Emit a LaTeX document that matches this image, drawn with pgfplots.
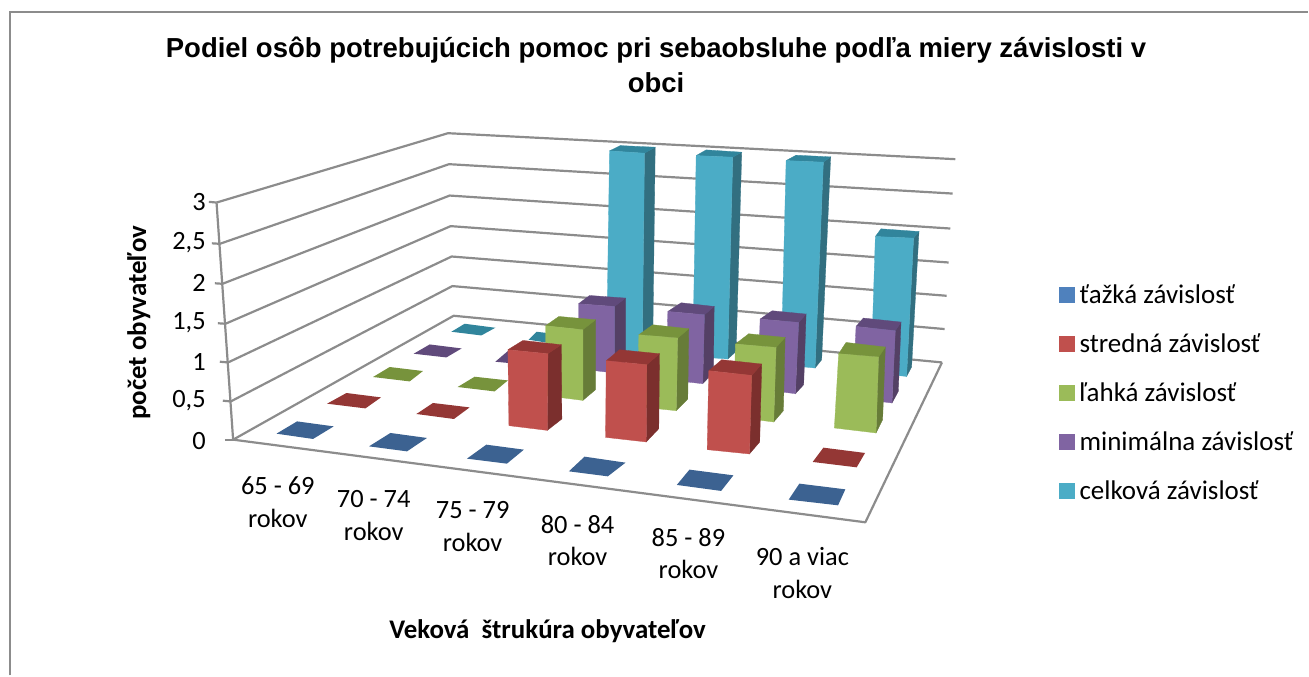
\documentclass[border=0pt]{standalone}
\usepackage{pgfplots}
\pgfplotsset{compat=1.18}
\usepackage{fontspec}
\setmainfont{Carlito}
\newfontfamily\arial{Liberation Sans}
\definecolor{bF}{HTML}{4F81BD}\definecolor{bT}{HTML}{3C6291}
\definecolor{rF}{HTML}{C0504D}\definecolor{rT}{HTML}{943735}\definecolor{rS}{HTML}{7B2F2D}
\definecolor{gF}{HTML}{9BBB59}\definecolor{gT}{HTML}{77933C}\definecolor{gS}{HTML}{677C38}
\definecolor{pF}{HTML}{8064A2}\definecolor{pT}{HTML}{604A7B}\definecolor{pS}{HTML}{544065}
\definecolor{cF}{HTML}{4BACC6}\definecolor{cT}{HTML}{31859C}\definecolor{cS}{HTML}{326F80}
\definecolor{gridc}{HTML}{8C8C8C}
% #1 series; front TL TR BR BL; top back-left, back-right; side bottom back
\newcommand{\Bar}[8]{%
 \addplot[forget plot,fill=#1S,draw=#1S,line width=.3pt] coordinates {(#3)(#7)(#8)(#4)(#3)};
 \addplot[forget plot,fill=#1T,draw=#1T,line width=.3pt] coordinates {(#2)(#6)(#7)(#3)(#2)};
 \addplot[forget plot,fill=#1F,draw=#1F,line width=.3pt] coordinates {(#2)(#3)(#4)(#5)(#2)};
}
\newcommand{\Tile}[5]{\addplot[forget plot,fill=#1T,draw=none] coordinates {(#2)(#3)(#4)(#5)(#2)};}
\newcommand{\Gl}[1]{\addplot[forget plot,gridc,line width=2.2pt,line join=round] coordinates {#1};}
\newcommand{\Yl}[2]{\node[font=\fontsize{26.4}{30}\selectfont,anchor=east,inner sep=0pt] at (axis cs:206,#2) {#1};}
\newcommand{\Xl}[3]{\node[font=\fontsize{26.4}{33}\selectfont,align=center] at (axis cs:#1,#2) {#3\\rokov};}
\begin{document}
\begin{tikzpicture}
\begin{axis}[
  scale only axis, width=1309pt, height=676pt,
  xmin=0, xmax=1309, ymin=0, ymax=676, y dir=reverse,
  hide axis, clip=false,
  legend cell align=left,
  legend style={at={(axis cs:1060,283)},anchor=north west,draw=none,fill=none,
    font=\fontsize{27}{30}\selectfont,inner sep=0pt,outer sep=0pt,
    row sep=24.8pt},
  legend image code/.code={\fill[#1] (-4pt,-7.5pt) rectangle (11pt,7.5pt);},
]
% page extent
\path (axis cs:0,0) rectangle (axis cs:1309,676);
% outer frame
\addplot[forget plot,gridc,line width=2pt] coordinates {(10,676)(10,12)(1309,12)};
% walls: value gridlines 0 ... 3
\Gl{(216.7,202.7)(448.3,133.3)(956,159.3)}
\Gl{(220,244)(449.3,164.3)(953.3,193.7)}
\Gl{(222.7,284)(450,195.7)(951,228.7)}
\Gl{(225.7,324)(451,226.3)(949.3,262.7)}
\Gl{(228.3,362.7)(452,256.7)(947.3,296)}
\Gl{(231,401.7)(452.7,286.3)(945.3,329.3)}
\Gl{(233.3,440)(454,316)(942.7,362.7)}
% floor front and right edges, vertical axis
\Gl{(233.3,440)(866,522.7)(942.7,362.7)}
\Gl{(216.7,202.7)(233.3,440)}
% tick stubs
\Gl{(209,202)(216.7,202.7)}
\Gl{(212,243.5)(220,244)}
\Gl{(215,283.5)(222.7,284)}
\Gl{(218,323.5)(225.7,324)}
\Gl{(220,362)(228.3,362.7)}
\Gl{(223,401)(231,401.7)}
\Gl{(225,440)(233.3,440)}
% zero-height bars
\Tile{c}{465,324}{495.7,328}{481.7,335.7}{451.7,332}
\Tile{c}{537,332}{570,336}{557,344.5}{529,340}
\Tile{p}{430,344.7}{462,348.7}{446.7,357.7}{414,354}
\Tile{p}{508,351.5}{542,355}{527,365}{495.7,362}
\Tile{g}{390,367.3}{423.3,371.3}{410,381.7}{373.3,377.3}
\Tile{g}{475,377}{508.3,380.7}{495,391.7}{458,387.3}
\Tile{r}{346.7,393.3}{381.3,397.7}{365.7,408.7}{327.3,404}
\Tile{r}{433.3,403.3}{470,407.7}{454.3,419.3}{416.7,414.3}
\Tile{r}{824,448}{865.7,453.3}{857.3,467.7}{813.3,462.3}
\Tile{b}{297.3,421.7}{334,426.7}{313.3,439.3}{276.7,434}
\Tile{b}{390.7,433.3}{427.3,438.3}{407.3,451.7}{369.3,446.7}
\Tile{b}{486.7,445}{524.3,450}{507.3,464}{467.3,459}
\Tile{b}{585,457}{626,463}{608.3,476.7}{569.3,471.7}
\Tile{b}{690,470}{734,475.7}{721.7,491.3}{677.3,485.3}
\Tile{b}{800,484}{846,489.7}{838.7,505.7}{789.3,500}
% cyan series
\Bar{c}{610,151}{645,153.3}{642.7,357}{607,355}{620.7,145.7}{655.7,147.3}{653.3,340}
\Bar{c}{696.7,155.7}{733.3,157.3}{728.3,359.3}{693.3,356.7}{706.7,150}{742.3,152.3}{736.7,351.7}
\Bar{c}{786.7,160.7}{824,162.3}{815.7,368.3}{781.7,365}{796.7,155.3}{831.3,157}{822.3,360}
\Bar{c}{876,236.7}{914.3,238.3}{907.3,376.7}{871.7,373.3}{881.7,229}{919.7,231.7}{912.3,367.3}
% purple series
\Bar{p}{579,304}{615,306.7}{615,373.3}{579,369}{590,295.7}{626,298.3}{626,363.3}
\Bar{p}{668.3,311.7}{705,315}{703.3,384}{667,380}{681.7,303}{714.7,306.7}{714,372.7}
\Bar{p}{760.7,319.3}{799.3,322.7}{796,394}{758.3,389.3}{772.7,311}{806.7,314.3}{804.3,385}
\Bar{p}{856.7,326.7}{896,331}{892.7,403.3}{853.3,398.3}{864,318.3}{901.7,322.3}{899,391.7}
% green series
\Bar{g}{546,326}{583.3,330}{583.3,400.7}{546,396}{559.3,316.7}{596,320}{596,390}
\Bar{g}{639.3,335}{678.3,338.3}{676.7,411}{638,407}{653.3,325}{689.3,329}{688.3,399.3}
\Bar{g}{736,344.3}{776.7,347.7}{774.3,422.3}{734,417.3}{749.3,334}{785.7,337.7}{784,411}
\Bar{g}{839.3,354}{879.3,357.3}{876.7,433.3}{835,428.3}{846.7,342.7}{886,347.3}{883.3,420}
% red series
\Bar{r}{508.3,350}{548.3,354}{547.7,430.7}{509.3,426}{523.3,340.7}{561.7,345}{562.3,419.3}
\Bar{r}{606.7,361}{647.3,365}{646.7,442.3}{606,437.7}{620,350}{660,354}{659.3,429}
\Bar{r}{709.3,371}{752.3,375.7}{750,454.3}{707.7,450}{722.3,360}{762.3,364.3}{760.3,442.3}
% legend
\addlegendimage{bF}\addlegendentry{\hspace{3pt}ťažká závislosť}
\addlegendimage{rF}\addlegendentry{\hspace{3pt}stredná závislosť}
\addlegendimage{gF}\addlegendentry{\hspace{3pt}ľahká závislosť}
\addlegendimage{pF}\addlegendentry{\hspace{3pt}minimálna závislosť}
\addlegendimage{cF}\addlegendentry{\hspace{3pt}celková závislosť}
% title
\node[font=\arial\bfseries\fontsize{27.5}{35}\selectfont,align=center,anchor=center] at (axis cs:656.5,65)
  {Podiel osôb potrebujúcich pomoc pri sebaobsluhe podľa miery závislosti v\\obci};
% value labels
\Yl{3}{202}\Yl{2,5}{243}\Yl{2}{283}\Yl{1,5}{323}\Yl{1}{362}\Yl{0,5}{401}\Yl{0}{441}
% category labels
\Xl{278}{503}{65 - 69}
\Xl{374}{516}{70 - 74}
\Xl{473}{527}{75 - 79}
\Xl{578}{541}{80 - 84}
\Xl{689}{554}{85 - 89}
\Xl{803}{573}{90 a viac}
% axis titles
\node[font=\bfseries\fontsize{26.9}{30}\selectfont] at (axis cs:548,632) {Veková \ štrukúra obyvateľov};
\node[font=\bfseries\fontsize{26.9}{30}\selectfont,rotate=90] at (axis cs:139,323) {počet obyvateľov};
\end{axis}
\end{tikzpicture}
\end{document}
